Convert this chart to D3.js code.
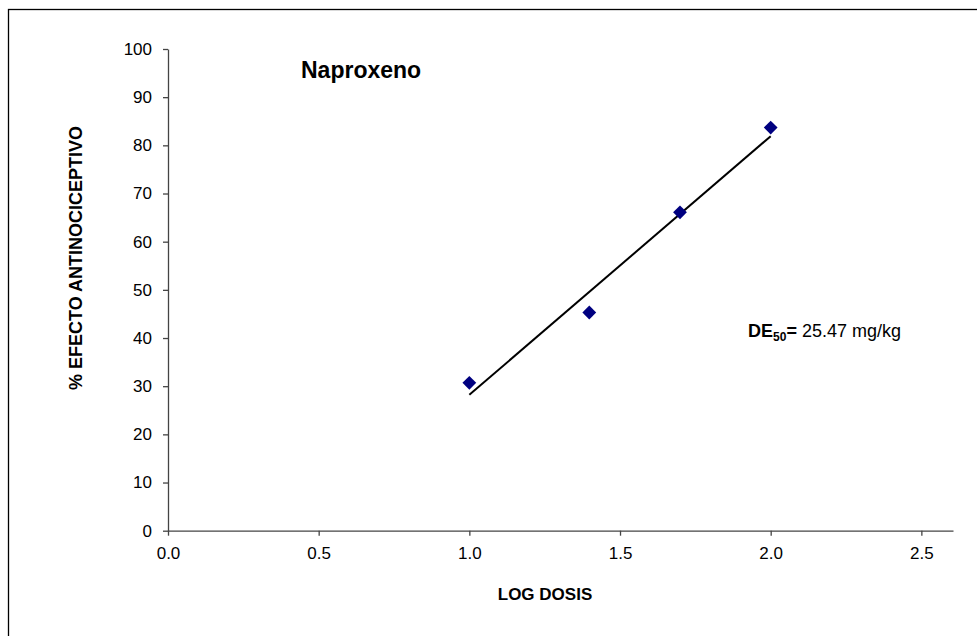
<!DOCTYPE html>
<html>
<head>
<meta charset="utf-8">
<title>Naproxeno</title>
<script src="https://d3js.org/d3.v7.min.js"></script>
<style>
  body { margin: 0; background: #fff; }
  svg { display: block; font-family: "Liberation Sans", Arial, sans-serif; }
</style>
</head>
<body>
<svg id="chart" width="977" height="636"></svg>
<script>
// values
const logDose = [1.0, 1.398, 1.699, 2.0];
const effect = [30.7, 45.3, 66.1, 83.7];
const trendX = [1.0, 2.0];
const trendY = [28.2, 81.9];
const xTicks = [0, 0.5, 1.0, 1.5, 2.0, 2.5];
const yTicks = [0, 10, 20, 30, 40, 50, 60, 70, 80, 90, 100];

const svg = d3.select("#chart");

// outer frame (runs off the right and bottom edges)
svg.append("rect")
  .attr("x", 8.5).attr("y", 9.5)
  .attr("width", 1000).attr("height", 700)
  .attr("fill", "none").attr("stroke", "#000").attr("stroke-width", 1.3);

const x = d3.scaleLinear().domain([0, 2.605]).range([168, 953]);
const y = d3.scaleLinear().domain([0, 100]).range([530.7, 49]);

const xAxis = d3.axisBottom(x)
  .tickValues(xTicks)
  .tickSize(5)
  .tickPadding(11)
  .tickSizeOuter(0)
  .tickFormat(d3.format(".1f"));

const yAxis = d3.axisLeft(y)
  .tickValues(yTicks)
  .tickSize(5)
  .tickPadding(11)
  .tickSizeOuter(0);

const gx = svg.append("g").attr("transform", "translate(0,530.7)").call(xAxis);
const gy = svg.append("g").attr("transform", "translate(168,0)").call(yAxis);

[gx, gy].forEach(g => {
  g.selectAll("path, line").attr("stroke", "#444").attr("stroke-width", 1.3);
  g.selectAll("text").attr("fill", "#000").style("font-size", "17px");
});

// trend line
const line = d3.line().x(d => x(d[0])).y(d => y(d[1]));
svg.append("path")
  .attr("d", line(d3.zip(trendX, trendY)))
  .attr("fill", "none")
  .attr("stroke", "#000")
  .attr("stroke-width", 2);

// diamond markers
svg.selectAll(".pt")
  .data(d3.zip(logDose, effect))
  .enter()
  .append("path")
  .attr("class", "pt")
  .attr("d", d3.symbol(d3.symbolSquare, 95))
  .attr("transform", d => `translate(${x(d[0])},${y(d[1])}) rotate(45)`)
  .attr("fill", "#000080");

// title
svg.append("text")
  .attr("x", 301).attr("y", 78)
  .style("font-size", "23px").style("font-weight", "bold")
  .text("Naproxeno");

// DE50 annotation
const de = svg.append("text")
  .attr("x", 748).attr("y", 337)
  .style("font-size", "18px");
de.append("tspan").style("font-weight", "bold").text("DE");
de.append("tspan").style("font-weight", "bold").style("font-size", "12px").attr("dy", 4).text("50");
de.append("tspan").style("font-weight", "bold").attr("dy", -4).text("=");
de.append("tspan").text(" 25.47 mg/kg");

// axis titles
svg.append("text")
  .attr("x", 545).attr("y", 600)
  .attr("text-anchor", "middle")
  .style("font-size", "17px").style("font-weight", "bold")
  .text("LOG DOSIS");

svg.append("text")
  .attr("transform", "translate(82,258) rotate(-90)")
  .attr("text-anchor", "middle")
  .style("font-size", "18px").style("font-weight", "bold")
  .text("% EFECTO ANTINOCICEPTIVO");
</script>
</body>
</html>
